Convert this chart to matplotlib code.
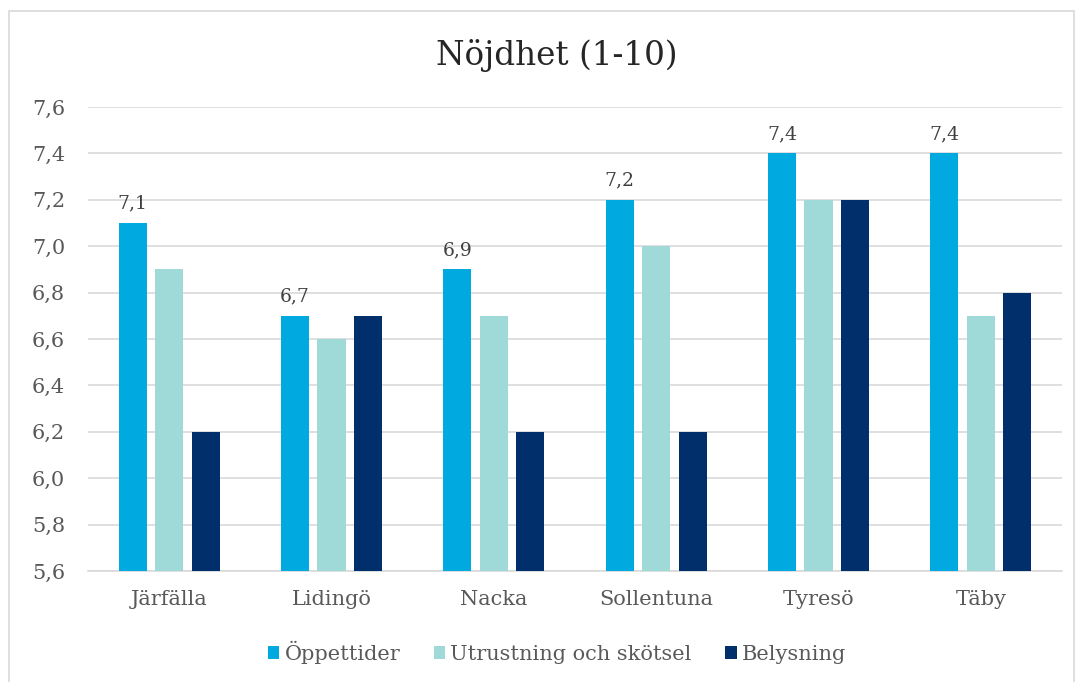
import numpy as np
import matplotlib
matplotlib.use('Agg')
import matplotlib.pyplot as plt
from matplotlib.patches import Rectangle

plt.rcParams['font.family'] = ['DejaVu Serif']

kommuner = ['Järfälla', 'Lidingö', 'Nacka', 'Sollentuna', 'Tyresö', 'Täby']
oppettider = [7.1, 6.7, 6.9, 7.2, 7.4, 7.4]
utrustning = [6.9, 6.6, 6.7, 7.0, 7.2, 6.7]
belysning = [6.2, 6.7, 6.2, 6.2, 7.2, 6.8]
serier = ['Öppettider', 'Utrustning och skötsel', 'Belysning']
farger = ['#00A9E0', '#A0DAD8', '#002F6C']
yticks = [5.6, 5.8, 6.0, 6.2, 6.4, 6.6, 6.8, 7.0, 7.2, 7.4, 7.6]

textgra = '#595959'

fig = plt.figure(figsize=(10.83, 6.82), dpi=100)
ax = fig.add_axes([0.0813, 0.1628, 0.8993, 0.6803])

# ram runt diagrammet
fig.patches.append(Rectangle((9 / 1083, -0.01), 1065 / 1083, 1 - 11 / 682 + 0.01,
                             transform=fig.transFigure, fill=False,
                             edgecolor='#D9D9D9', linewidth=1.2))

x = np.arange(len(kommuner))
bredd = 0.173
steg = 0.225
for i, (vals, namn, f) in enumerate(zip([oppettider, utrustning, belysning], serier, farger)):
    pos = x + (i - 1) * steg
    ax.bar(pos, np.array(vals) - 5.6, bredd, bottom=5.6, color=f, label=namn, zorder=3)
    if i == 0:
        for px, v in zip(pos, vals):
            ax.text(px, v + 0.045, f'{v:.1f}'.replace('.', ','), ha='center', va='bottom',
                    fontsize=13.5, color='#404040')

ax.set_xlim(-0.5, len(kommuner) - 0.5)
ax.set_ylim(5.6, 7.6)
ax.set_yticks(yticks)
ax.set_yticklabels([f'{t:.1f}'.replace('.', ',') for t in yticks])
ax.set_xticks(x)
ax.set_xticklabels(kommuner)
ax.tick_params(axis='both', length=0, labelsize=15, labelcolor=textgra)
ax.tick_params(axis='y', pad=16.5)
ax.tick_params(axis='x', pad=14)
ax.grid(axis='y', color='#D9D9D9', linewidth=1.2, zorder=0)
for s in ['top', 'right', 'left']:
    ax.spines[s].set_visible(False)
ax.spines['bottom'].set_color('#D9D9D9')
ax.spines['bottom'].set_linewidth(1.2)

fig.text(0.5143, 0.919, 'Nöjdhet (1-10)', ha='center', va='center', fontsize=23.5, color='#262626')

ax.legend(loc='center', bbox_to_anchor=(0.4815, -0.175), ncol=3, frameon=False,
          fontsize=15, labelcolor=textgra, handlelength=0.55, handleheight=0.55,
          handletextpad=0.25, columnspacing=1.6)

fig.savefig('out.png', dpi=100)
